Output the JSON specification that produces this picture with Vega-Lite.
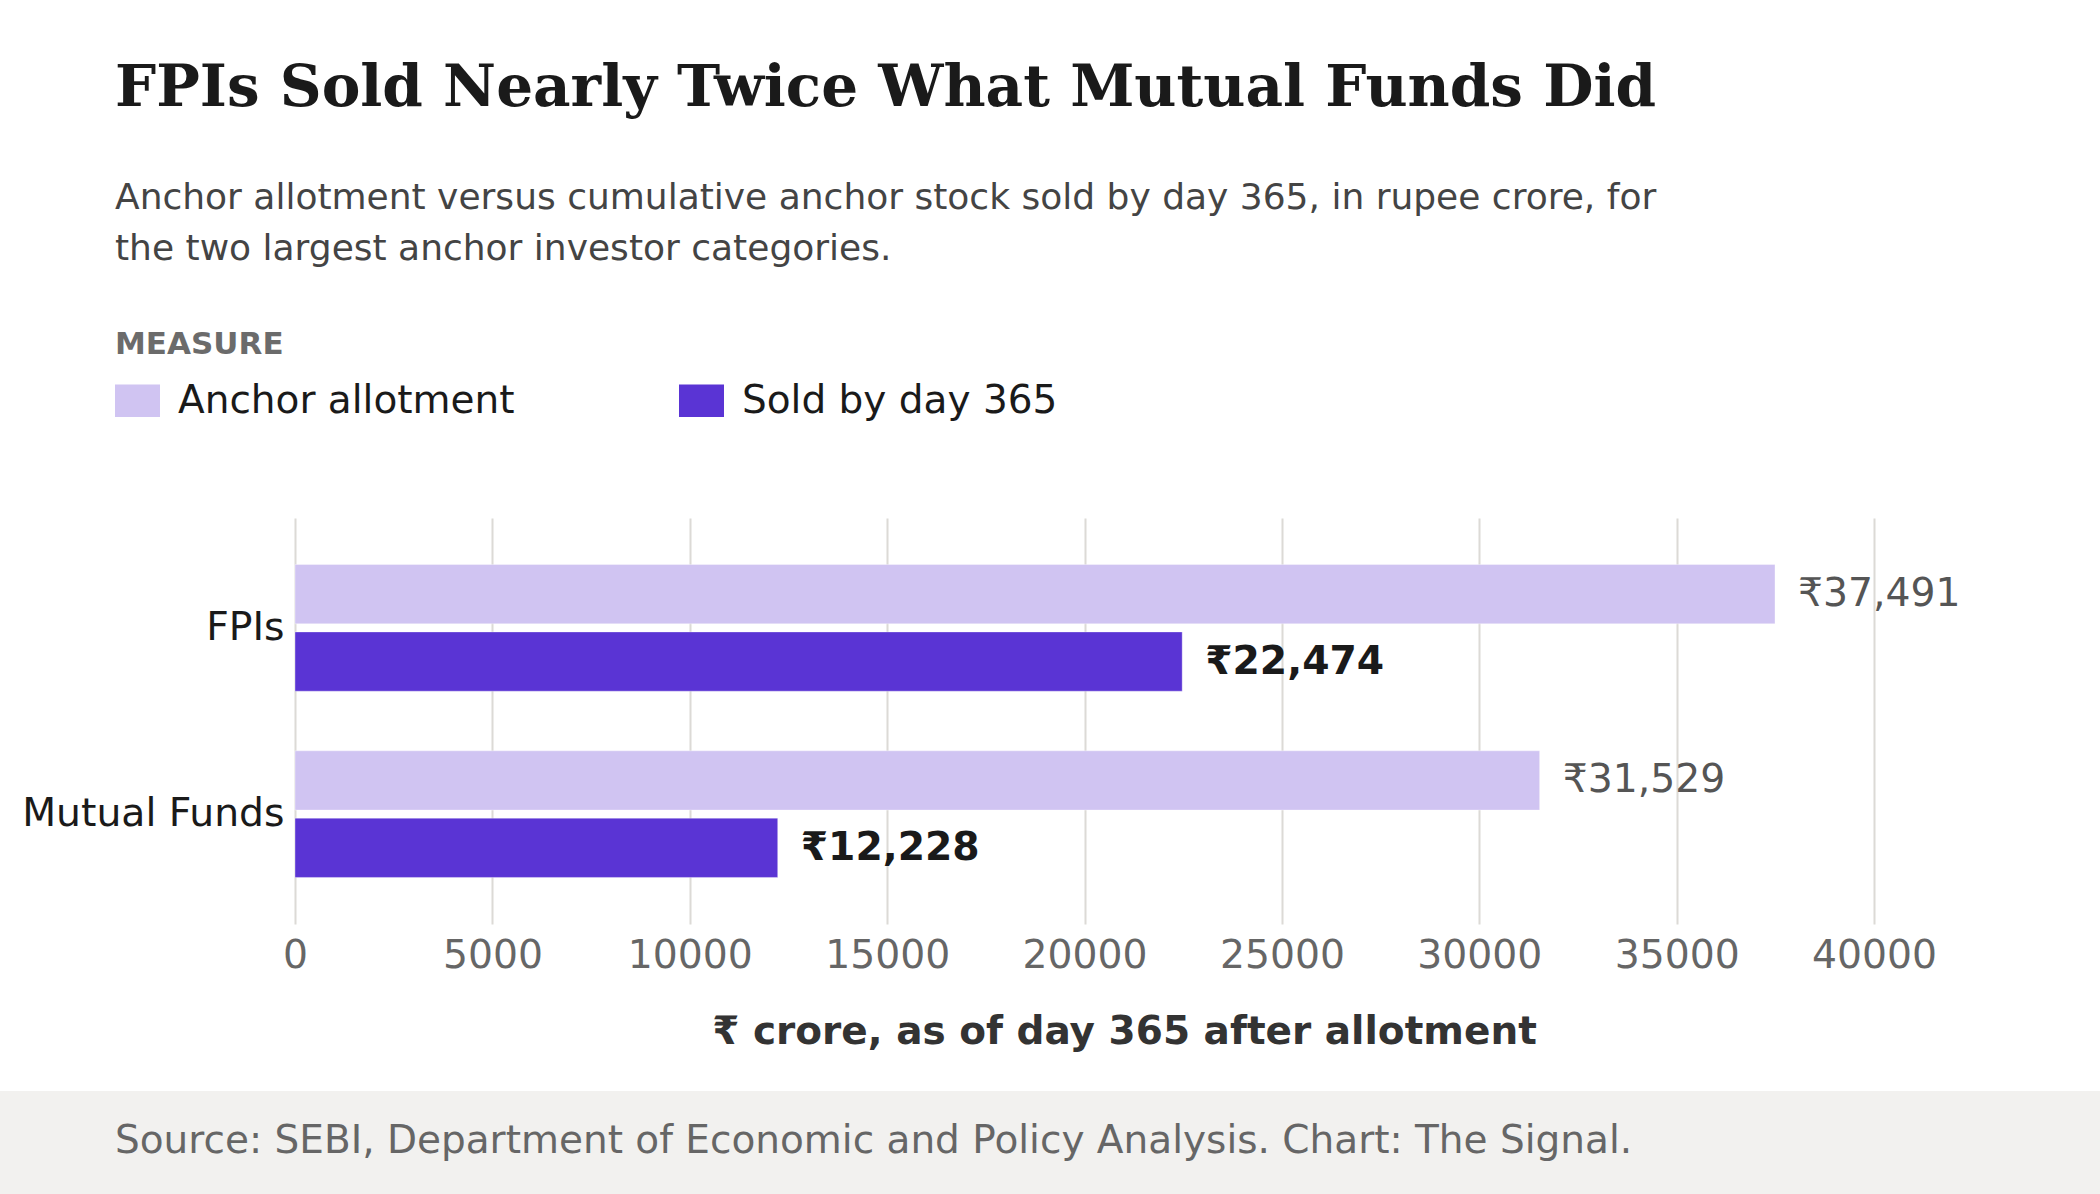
{
  "$schema": "https://vega.github.io/schema/vega-lite/v6.json",
  "padding": {"left": 0, "right": 0, "top": 60, "bottom": 0},
  "background": "white",
  "title": {
    "text": "FPIs Sold Nearly Twice What Mutual Funds Did",
    "subtitle": [
      "Anchor allotment versus cumulative anchor stock sold by day 365, in rupee crore, for",
      "the two largest anchor investor categories."
    ],
    "anchor": "start",
    "frame": "bounds",
    "dx": 115,
    "offset": 63,
    "font": "DejaVu Serif",
    "fontSize": 58,
    "fontWeight": "bold",
    "color": "#1a1a1a",
    "subtitleFont": "DejaVu Sans",
    "subtitleFontSize": 36,
    "subtitleColor": "#444444",
    "subtitleLineHeight": 51,
    "subtitlePadding": 63
  },
  "spacing": 39,
  "vconcat": [
    {
      "width": 2100,
      "height": 406,
      "data": {
        "values": [
          {"category": "FPIs", "measure": "Anchor allotment", "value": 37491},
          {"category": "FPIs", "measure": "Sold by day 365", "value": 22474},
          {"category": "Mutual Funds", "measure": "Anchor allotment", "value": 31529},
          {"category": "Mutual Funds", "measure": "Sold by day 365", "value": 12228}
        ]
      },
      "transform": [
        {"calculate": "'₹' + format(datum.value, ',')", "as": "label"}
      ],
      "encoding": {
        "y": {
          "field": "category",
          "type": "nominal",
          "sort": ["FPIs", "Mutual Funds"],
          "title": null,
          "scale": {"paddingInner": 0.32, "paddingOuter": 0.25},
          "axis": {
            "domain": false,
            "ticks": false,
            "offset": -295,
            "minExtent": 0,
            "maxExtent": 0,
            "labelFontSize": 39.3,
            "labelColor": "#1a1a1a",
            "labelPadding": 11,
            "labelLimit": 400
          }
        },
        "yOffset": {
          "field": "measure",
          "type": "nominal",
          "sort": ["Anchor allotment", "Sold by day 365"],
          "scale": {"paddingInner": 0.12, "paddingOuter": 0}
        },
        "x": {
          "field": "value",
          "type": "quantitative",
          "scale": {"domain": [0, 42000], "nice": false, "range": [295, 1953]},
          "axis": {
            "values": [0, 5000, 10000, 15000, 20000, 25000, 30000, 35000, 40000],
            "format": "d",
            "grid": true,
            "gridColor": "#dcdad6",
            "gridWidth": 2,
            "domain": false,
            "ticks": false,
            "labelFlush": false,
            "labelFontSize": 39.3,
            "labelColor": "#666666",
            "labelPadding": 12,
            "title": "₹ crore, as of day 365 after allotment",
            "titleFontSize": 39,
            "titleFontWeight": "bold",
            "titleColor": "#333333",
            "titlePadding": 37
          }
        }
      },
      "layer": [
        {
          "mark": {"type": "bar", "stroke": "white", "strokeWidth": 1, "strokeOpacity": 0.35},
          "encoding": {
            "color": {
              "field": "measure",
              "type": "nominal",
              "scale": {
                "domain": ["Anchor allotment", "Sold by day 365"],
                "range": ["#d0c4f2", "#5a34d4"]
              },
              "legend": {
                "title": "MEASURE",
                "orient": "none",
                "legendX": 115,
                "legendY": -188,
                "direction": "horizontal",
                "titleFontSize": 31,
                "titleFontWeight": "bold",
                "titleColor": "#6b6b6b",
                "titlePadding": 17,
                "labelFontSize": 39,
                "labelColor": "#1a1a1a",
                "labelOffset": 18,
                "labelLimit": 500,
                "symbolType": "M-1,-0.72H1V0.72H-1Z",
                "symbolSize": 2025,
                "symbolStrokeWidth": 0,
                "symbolOpacity": 1,
                "columnPadding": 164
              }
            }
          }
        },
        {
          "transform": [{"filter": "datum.measure === 'Anchor allotment'"}],
          "mark": {"type": "text", "align": "left", "baseline": "middle", "dx": 23, "fontSize": 39.3, "color": "#555555"},
          "encoding": {"text": {"field": "label"}}
        },
        {
          "transform": [{"filter": "datum.measure === 'Sold by day 365'"}],
          "mark": {"type": "text", "align": "left", "baseline": "middle", "dx": 23, "fontSize": 39.3, "fontWeight": "bold", "color": "#1a1a1a"},
          "encoding": {"text": {"field": "label"}}
        }
      ]
    },
    {
      "width": 2100,
      "height": 103,
      "view": {"fill": "#f2f1ef", "stroke": null},
      "title": {
        "text": "Source: SEBI, Department of Economic and Policy Analysis. Chart: The Signal.",
        "anchor": "start",
        "frame": "group",
        "orient": "top",
        "dx": 115,
        "offset": -70,
        "font": "DejaVu Sans",
        "fontSize": 39,
        "fontWeight": "normal",
        "color": "#666666"
      },
      "data": {"values": [{"band": "footer"}]},
      "mark": {"type": "rect", "color": "#f2f1ef"}
    }
  ],
  "config": {
    "font": "DejaVu Sans",
    "view": {"stroke": null}
  }
}
